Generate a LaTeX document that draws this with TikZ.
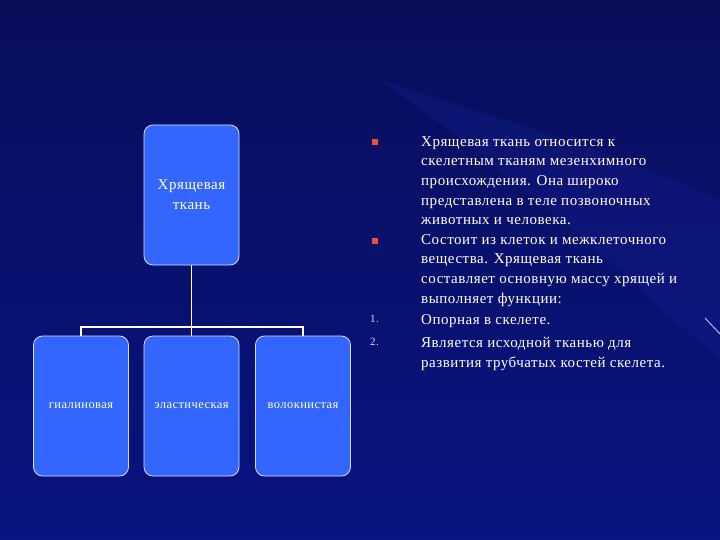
\documentclass[tikz,border=0pt]{standalone}
\usepackage{fontspec}
\setmainfont[LetterSpace=3.5]{Liberation Serif}
\definecolor{boxblue}{RGB}{51,102,255}
\definecolor{bgtop}{RGB}{8,14,90}
\definecolor{bgbot}{RGB}{10,20,130}
\definecolor{glow}{RGB}{30,40,170}
\definecolor{bulred}{RGB}{230,80,60}
\begin{document}
\begin{tikzpicture}[x=1pt,y=-1pt,
  boxst/.style={draw=white!85!blue, line width=0.8pt, fill=boxblue, rounded corners=9pt, minimum width=95pt, minimum height=140pt, inner sep=2pt, text=white, align=center},
  para/.style={anchor=north west, align=left, inner sep=0pt, text=white, font=\fontsize{15}{19.7}\selectfont},
  nummark/.style={anchor=north west, inner sep=0pt, text=white!85!blue, font=\fontsize{11}{13}\selectfont},
  bul/.style={fill=bulred, minimum size=6pt, inner sep=0pt}]
\shade[top color=bgtop, bottom color=bgbot] (0,0) rectangle (720,540);
\fill[glow, opacity=0.2] (380,80) .. controls (550,200) and (650,300) .. (720,360) -- (720,200) .. controls (600,150) .. (380,80);
\useasboundingbox (0,0) rectangle (720,540);
\draw[white!70!blue, line width=1pt] (705,318) -- (720,334);
\node[boxst, font=\fontsize{15}{20}\selectfont] (top) at (191.5,195) {Хрящевая\\ ткань};
\node[boxst, font=\fontsize{12.5}{14}\selectfont] (b1) at (81,406) {гиалиновая};
\node[boxst, font=\fontsize{12.5}{14}\selectfont] (b2) at (191.5,406) {эластическая};
\node[boxst, font=\fontsize{12.5}{14}\selectfont] (b3) at (303,406) {волокнистая};
\coordinate (j) at (191.5,327);
\draw[white, line width=1.6pt] (top.south) -- (j);
\draw[white, line width=1.6pt] (b1.north) |- (j) -| (b3.north);
\draw[white, line width=1.6pt] (j) -- (b2.north);
\node[bul] (m1) at (375,142) {};
\node[bul] (m2) at (375,241) {};
\node[nummark] (n1) at (370,315) {1.};
\node[nummark] (n2) at (370,338) {2.};
\node[para] (p1) at (421,136) {Хрящевая ткань относится к\\ скелетным тканям мезенхимного\\ происхождения. Она широко\\ представлена в теле позвоночных\\ животных и человека.};
\node[para] (p2) at (421,234) {Состоит из клеток и межклеточного\\ вещества. Хрящевая ткань\\ составляет основную массу хрящей и\\ выполняет функции:};
\node[para] (p3) at (421,314) {Опорная в скелете.};
\node[para] (p4) at (421,337) {Является исходной тканью для\\ развития трубчатых костей скелета.};
\end{tikzpicture}
\end{document}
